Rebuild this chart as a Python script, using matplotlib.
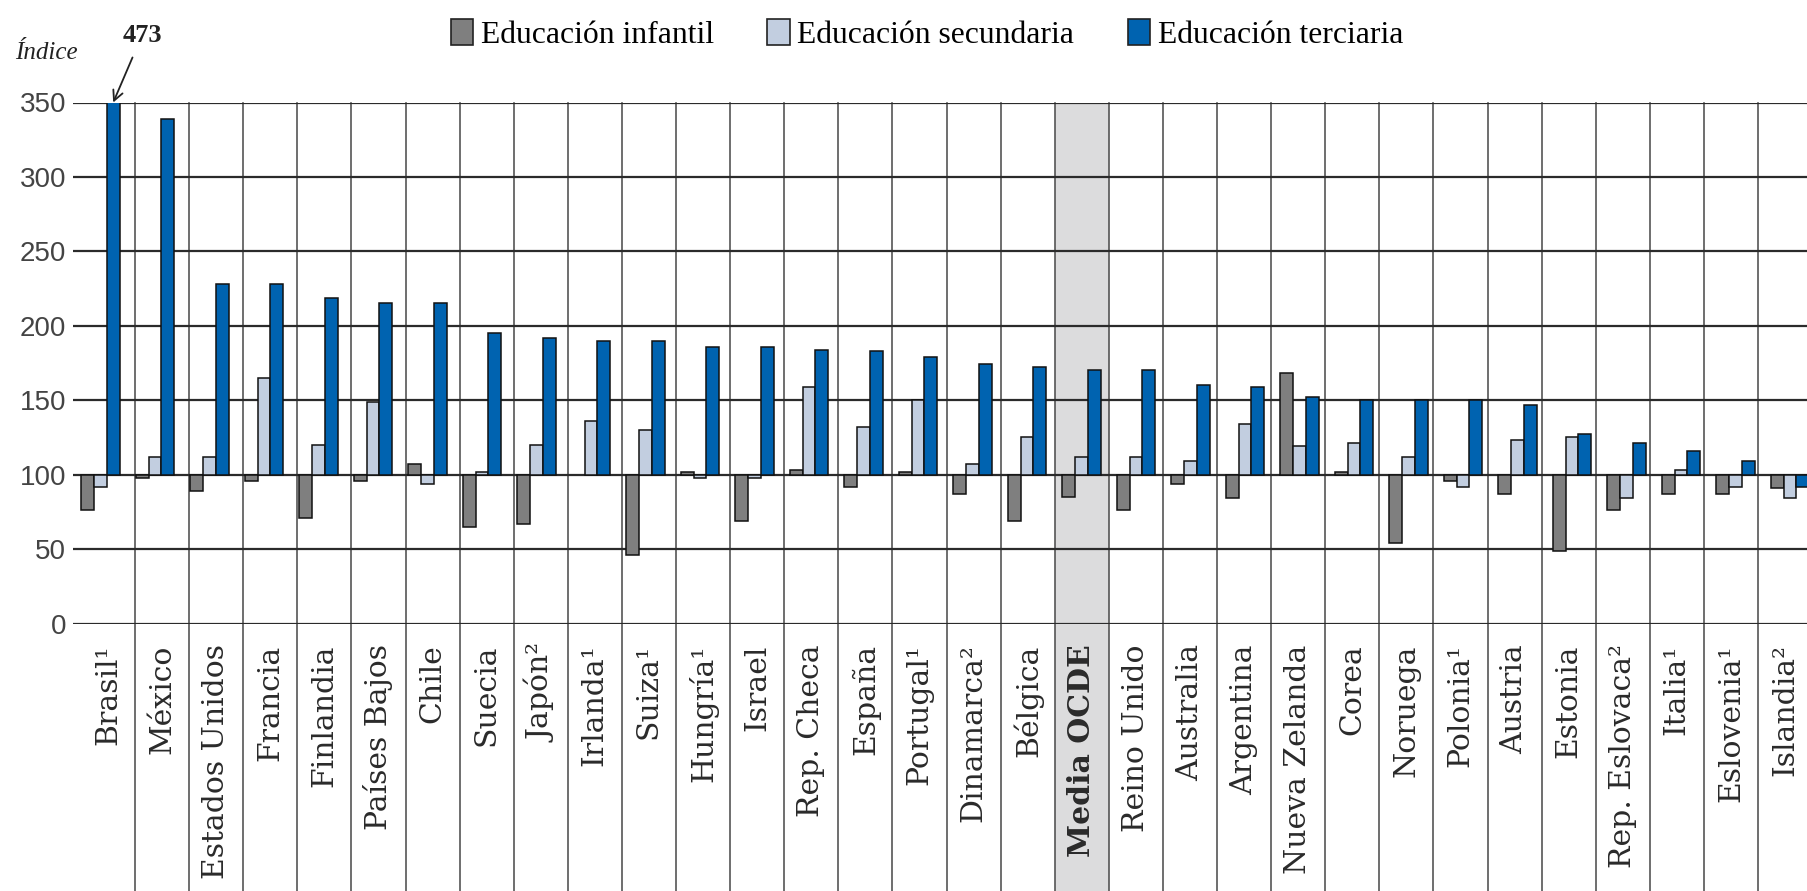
import numpy as np
import matplotlib
matplotlib.use("Agg")
import matplotlib.pyplot as plt
from matplotlib.patches import Patch
from matplotlib.transforms import blended_transform_factory

# Data (index, 100 = reference level)
paises = ["Brasil¹", "México", "Estados Unidos", "Francia", "Finlandia", "Países Bajos",
          "Chile", "Suecia", "Japón²", "Irlanda¹", "Suiza¹", "Hungría¹", "Israel",
          "Rep. Checa", "España", "Portugal¹", "Dinamarca²", "Bélgica", "Media OCDE",
          "Reino Unido", "Australia", "Argentina", "Nueva Zelanda", "Corea", "Noruega",
          "Polonia¹", "Austria", "Estonia", "Rep. Eslovaca²", "Italia¹", "Eslovenia¹",
          "Islandia²"]
infantil = [76, 98, 89, 96, 71, 96, 107, 65, 67, np.nan, 46, 102, 69, 103, 92, 102, 87,
            69, 85, 76, 94, 84, 168, 102, 54, 96, 87, 49, 76, 87, 87, 91]
secundaria = [92, 112, 112, 165, 120, 149, 94, 102, 120, 136, 130, 98, 98, 159, 132, 150,
              107, 125, 112, 112, 109, 134, 119, 121, 112, 92, 123, 125, 84, 103, 92, 84]
terciaria = [473, 339, 228, 228, 219, 215, 215, 195, 192, 190, 190, 186, 186, 184, 183,
             179, 174, 172, 170, 170, 160, 159, 152, 150, 150, 150, 147, 127, 121, 116,
             109, 92]
series = ["Educación infantil", "Educación secundaria", "Educación terciaria"]
colores = ["#7f7f7f", "#c2cee0", "#0063b0"]
yticks = [0, 50, 100, 150, 200, 250, 300, 350]
base = 100
oecd_idx = paises.index("Media OCDE")

W, H = 1808, 891
fig = plt.figure(figsize=(W / 100, H / 100), dpi=100)
ax = fig.add_axes([73 / W, 1 - 623.5 / H, 1 - 73 / W, (623.5 - 102.5) / H])

n = len(paises)
x = np.arange(n)
bw = 0.233
for k, (vals, col) in enumerate(zip([infantil, secundaria, terciaria], colores)):
    v = np.array(vals, dtype=float)
    ax.bar(x + (k - 1) * bw, v - base, bottom=base, width=bw, color=col,
           edgecolor="#111111", linewidth=1.1, zorder=3)

ax.set_xlim(-0.5046, 31.33)
ax.set_ylim(0, 350)
ax.set_yticks(yticks)
ax.set_xticks([])
for s in ax.spines.values():
    s.set_visible(False)
ax.tick_params(axis="y", length=0, pad=5, labelsize=20, labelcolor="#444444")
for t in ax.get_yticklabels():
    t.set_family("Liberation Sans")
for yv in yticks:
    ax.axhline(yv, xmin=0, xmax=1, color="#2b2b2b", linewidth=1.6, zorder=2)

# column separators, running down through the label area
trans = blended_transform_factory(ax.transData, ax.transAxes)
seps = 0.633 + 0.99266 * np.arange(n - 1)
for s in seps:
    ax.plot([s, s], [1, -0.52], transform=trans, color="#555555", linewidth=1.2,
            clip_on=False, zorder=1)

# shaded OECD column
left = seps[oecd_idx - 1]
right = seps[oecd_idx]
ax.fill_between([left, right], [1, 1], [-0.52, -0.52], transform=trans,
                color="#dcdcdd", clip_on=False, zorder=0, linewidth=0)

# country labels
for i, name in enumerate(paises):
    xc = 0.633 + 0.99266 * (i - 0.5)
    ax.text(xc, -0.04, name, transform=trans, rotation=90, ha="center", va="top",
            fontsize=21.5, family="DejaVu Serif", color="#2a2a2a",
            fontweight="bold" if i == oecd_idx else "normal")

# off-scale value for Brasil
ax.annotate("473", xy=(bw, 350), xytext=(0.76, 395), textcoords="data",
            ha="center", va="center", fontsize=19, fontweight="bold",
            family="Liberation Serif", color="#222222", annotation_clip=False,
            arrowprops=dict(arrowstyle="->", color="#222222", lw=1.3,
                            shrinkA=6, shrinkB=0, mutation_scale=18))

fig.text(15 / W, 1 - 53 / H, "Índice", fontsize=18, style="italic",
         family="Liberation Serif", ha="left", va="center", color="#222222")

handles = [Patch(facecolor=c, edgecolor="#222222", linewidth=1.2) for c in colores]
fig.legend(handles, series, loc="upper left", bbox_to_anchor=(451 / W, 1 - 19 / H),
           ncol=3, frameon=False, borderpad=0, borderaxespad=0, handlelength=0.7,
           handleheight=0.9, handletextpad=0.25, columnspacing=1.68,
           prop={"family": "Liberation Serif", "size": 22.8})

fig.savefig("out.png", dpi=100)
